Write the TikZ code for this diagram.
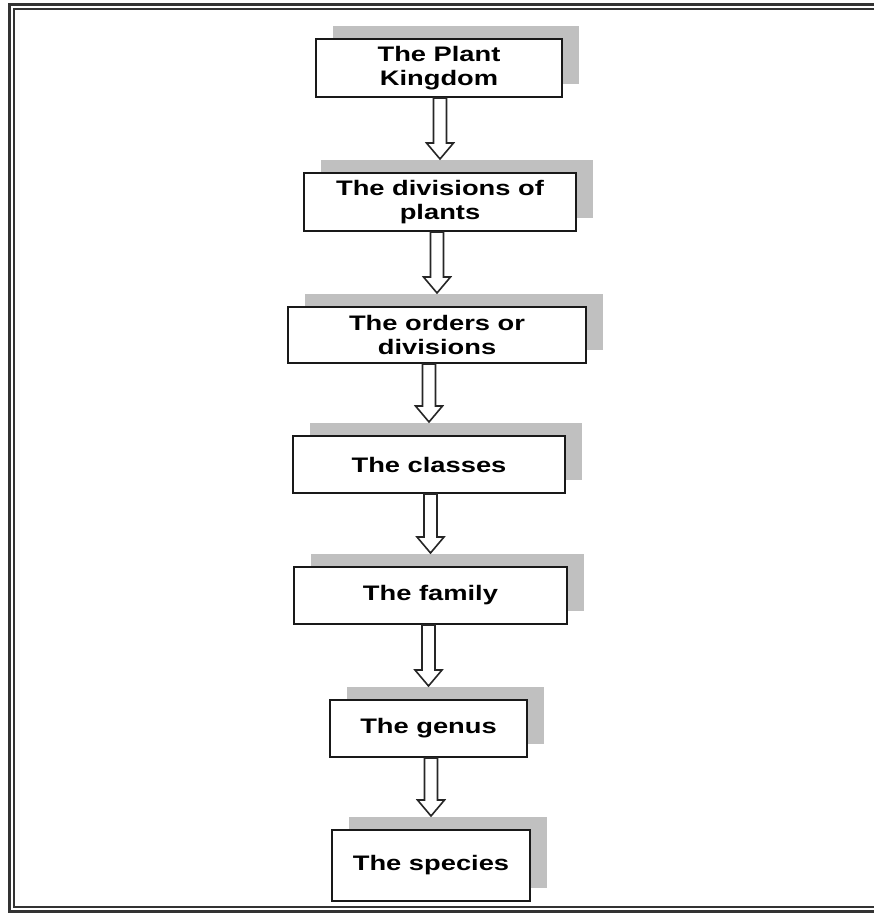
\documentclass[tikz,border=0pt]{standalone}
\usepackage{fontspec}
\newfontfamily\chartfont{Liberation Sans}[FakeStretch=1.3]
\usepackage{tikz}
\usetikzlibrary{calc,shadows}

\definecolor{shadowgray}{RGB}{192,192,192}

% hollow block arrow from the bottom of #1 down to the shadow top of #2
\newcommand{\blockarrow}[2]{%
  \draw[hollow] ($(#2.north |- #1.south)+(-3.25pt,0)$)
    -- ($(#2.north)+(-3.25pt,14.5pt)$) -- ($(#2.north)+(-6.75pt,14.5pt)$)
    -- ($(#2.north)+(0,6.5pt)$)
    -- ($(#2.north)+(6.75pt,14.5pt)$) -- ($(#2.north)+(3.25pt,14.5pt)$)
    -- ($(#2.north |- #1.south)+(3.25pt,0)$) -- cycle;}

\begin{document}
\begin{tikzpicture}[
  x=0.5pt, y=-0.5pt,
  every node/.style={font=\chartfont\bfseries\fontsize{10.5}{12}\selectfont},
  rank/.style={draw=black!90, line width=1pt, fill=white, align=center,
               inner sep=0pt,
               general shadow={shadow xshift=8.5pt, shadow yshift=6.5pt,
                               fill=shadowgray, draw=none}},
  hollow/.style={draw=black!85, line width=0.8pt, fill=white},
  frame/.style={draw=black!80},
]
  \useasboundingbox (0,0) rectangle (874,913);

  % page frame
  \draw[frame, line width=1.5pt] (874,5) -- (9.5,5) -- (9.5,911) -- (874,911);
  \draw[frame, line width=1pt] (874,9.5) -- (14,9.5) -- (14,907) -- (874,907);

  \node[rank, minimum width=123pt, minimum height=29pt] (kingdom) at (439,68) {The Plant\\Kingdom};
  \node[rank, minimum width=136pt, minimum height=29pt] (divisions) at (440,202) {The divisions of\\plants};
  \node[rank, minimum width=149pt, minimum height=28pt] (orders) at (437,335) {The orders or\\divisions};
  \node[rank, minimum width=136pt, minimum height=28.5pt] (classes) at (429,464.5) {The classes};
  \node[rank, minimum width=136.5pt, minimum height=28.5pt] (family) at (430.5,595.5) {The family};
  \node[rank, minimum width=98.5pt, minimum height=28.5pt] (genus) at (428.5,728.5) {The genus};
  \node[rank, minimum width=99pt, minimum height=35.5pt] (species) at (431,865.5) {The species};

  \blockarrow{kingdom}{divisions}
  \blockarrow{divisions}{orders}
  \blockarrow{orders}{classes}
  \blockarrow{classes}{family}
  \blockarrow{family}{genus}
  \blockarrow{genus}{species}
\end{tikzpicture}
\end{document}
